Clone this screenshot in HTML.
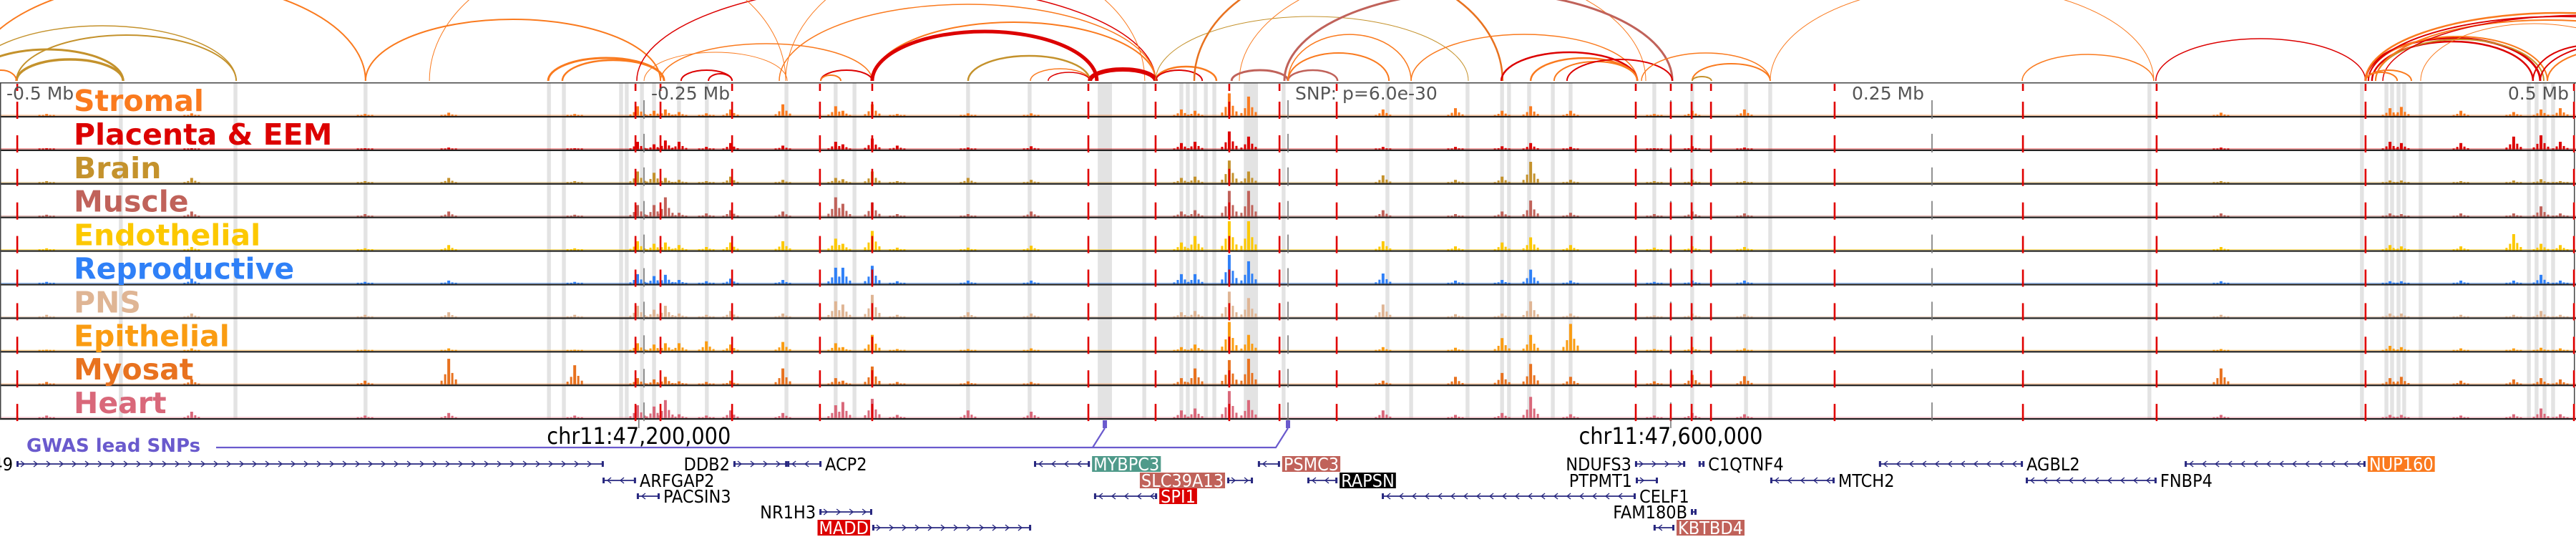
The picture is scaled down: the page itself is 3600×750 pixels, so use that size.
<!DOCTYPE html>
<html><head><meta charset="utf-8"><style>
html,body{margin:0;padding:0;background:#fff;}
svg{display:block;}
text{font-family:"DejaVu Sans","Liberation Sans",sans-serif;}
.cond{font-family:"DejaVu Sans Condensed","DejaVu Sans","Liberation Sans",sans-serif;}
</style></head><body>
<svg id="chart" width="3600" height="750" viewBox="0 0 3600 750" xmlns="http://www.w3.org/2000/svg">
<g id="shades"></g>
<g id="arcs"></g>
<g id="tracks"></g>
<g id="vlines"></g>
<g id="labels"></g>
<g id="axis"></g>
<g id="genes"></g>
</svg>
<script>
// ---- data (genomic offsets in kb relative to lead SNP) ----
const tissues = ["Stromal","Placenta & EEM","Brain","Muscle","Endothelial","Reproductive","PNS","Epithelial","Myosat","Heart"];
const tissueColors = ["#fa7a1e","#dc0000","#c4922c","#c0625a","#fcc800","#2f80f7","#dfb594","#fa9c12","#e8721f","#d9687a"];
const peakPos = [-481.9,-425.6,-358.3,-325.8,-276.9,-252.5,-246.1,-241.7,-236.4,-225.8,-216.4,-196.1,-175.6,-172.8,-161.4,-151.7,-124.2,-99.7,-41.4,-36.1,-22.8,-15.3,36.9,65.0,83.1,94.2,109.7,142.2,156.9,177.2,362.2,427.8,432.2,455.3,475.8,486.4,493.9];
const sigStromal = [3,4,3,5,3,15,8,10,6,4,10,18,15,8,18,3,4,4,10,8,35,30,10,12,8,15,8,3,8,10,5,12,14,8,6,10,12];
const sigPlacenta = [2,2,2,3,2,12,8,14,12,4,10,6,12,8,17,6,3,5,10,12,28,20,4,4,5,10,4,2,5,3,3,12,10,10,20,22,12];
const sigBrain = [3,8,3,8,3,18,16,8,5,3,10,5,8,6,18,3,8,5,8,10,35,18,12,5,10,33,5,3,5,3,3,4,4,3,4,6,3];
const sigMuscle = [3,8,4,8,3,18,18,30,6,5,10,8,30,20,22,4,4,8,8,10,40,40,10,4,8,25,6,4,8,5,5,5,4,5,5,16,5];
const sigEndothelial = [3,5,3,8,3,14,10,12,8,5,12,14,18,10,30,4,4,7,12,22,45,45,14,6,12,20,8,4,6,5,5,8,6,6,25,10,8];
const sigReproductive = [3,8,3,5,3,15,12,14,6,4,8,6,25,25,28,4,5,5,15,15,45,35,16,5,6,22,5,3,5,5,4,4,4,5,5,14,5];
const sigPNS = [4,6,4,8,4,18,12,18,6,4,10,6,25,20,35,4,8,6,8,10,40,30,20,5,6,25,6,3,6,5,4,6,6,4,4,10,4];
const sigEpithelial = [2,4,2,4,2,12,10,12,12,15,10,14,12,6,25,3,3,4,6,10,45,25,6,5,20,25,42,3,6,4,3,8,6,4,4,5,4];
const sigMyosat = [4,8,6,40,30,10,8,12,5,4,6,25,10,6,28,4,5,4,10,25,38,40,6,12,18,32,12,5,15,13,25,10,12,6,8,10,8];
const sigHeart = [4,10,4,8,4,20,18,28,6,4,12,8,20,25,30,5,12,10,12,15,42,28,12,5,8,33,6,4,8,6,5,5,5,4,6,15,6];
const signals = [sigStromal,sigPlacenta,sigBrain,sigMuscle,sigEndothelial,sigReproductive,sigPNS,sigEpithelial,sigMyosat,sigHeart];

const shadePos = [-453.1,-408.6,-358.1,-286.9,-281.1,-258.9,-256.7,-250.8,-246.1,-236.4,-225.6,-194.7,-175.6,-168.3,-124.2,-100.3,-71.1,-55.8,-41.4,-38.9,-36.1,-31.9,-28.6,-14.4,-1.7,38.6,47.8,69.7,83.1,85.8,93.6,102.8,109.7,142.2,156.9,177.8,187.2,334.4,416.9,426.4,428.6,431.1,433.3,439.7,481.7,484.7,487.8,491.1];
const shadeWidthKb = [1.5,1.5,1.5,1.5,1.5,1.5,1.5,1.5,1.5,1.5,1.5,1.5,1.5,1.5,1.5,1.5,5.5,1.5,1.5,1.5,1.5,1.5,1.5,5.5,1.5,1.5,1.5,1.5,1.5,1.5,1.5,1.5,1.5,1.5,1.5,1.5,1.5,1.5,1.5,1.5,1.5,1.5,1.5,1.5,1.5,1.5,1.5,1.5];

const snpLines = [-493.3,-253.3,-243.6,-215.8,-181.7,-161.4,-77.5,-51.4,-22.8,-3.3,18.9,135,148.6,156.7,164.2,212.2,285.3,337.2,418.3,499.2];
const tickKb = [-250,0,250,148.6];

const arcStart = [-511.1,-512.2,-493.6,-511.1,-493.6,-505.6,-358.1,-287.2,-281.7,-252.8,-333.3,-195,-243.6,-250,-197.5,-161.4,-161.4,-124.2,-76.9,-235.6,-225,-181.4,-181.4,-100,-93.1,-51.4,-51.4,-36.4,-51.4,-18.9,-1.4,-21.9,0,0,0,47.8,82.8,94.2,103.3,108.3,137.2,156.9,156.9,285,187.2,336.9,418.3,419.4,420.8,422.2,418.3,419.4,422.2,425,439.7,418.3,418.3,483.3,488.9,486.1];
const arcEnd = [-358.1,-408.3,-408.3,-452.2,-452.2,-493.6,-243.6,-242.2,-242.2,-51.4,-195,-55.6,-161.4,-194.4,-51.4,-51.4,-74.2,-76.9,-51.4,-215.8,-215.8,-161.4,-173.6,-76.9,-76.9,-27.8,-33.3,83.3,70,138.9,149.2,0,19.2,39.2,47.8,135.6,135.6,135.6,135.6,149.2,187.2,187.2,164.4,336.1,336.1,418.3,486.1,488.9,483.3,487.5,569.4,569.4,555.6,583.3,527.8,430.6,436.1,527.8,541.7,555.6];
const arcScore = [140,77,64,44,30,15,86,32,29,135,180,180,52,40,107,82,69,35,16,15,10,15,8,17,12,20,15,160,90,160,125,15,15,39,65,65,40,32,27,30,39,24,6,37,134,59,60,62,55,58,95,90,85,92,80,12,15,50,45,55];
const arcTissue = [0,2,2,2,2,0,0,0,0,1,0,0,0,0,0,0,1,2,1,1,1,1,0,0,1,0,1,8,2,0,3,3,3,0,0,0,1,0,0,1,0,0,2,0,0,1,1,0,1,2,0,1,0,1,0,0,0,1,0,1];
const arcWeight = [2,1.5,2,3,3.5,2,2,3,2.5,1.5,1,1,1.5,1,1.5,2,5,2.5,6,2,2,2,2,1.5,1.5,2.5,2,2.5,1,1,3,3,2.5,2,1.5,1.5,2.5,2.5,2,2,1.5,2,2,1.5,1,1.5,3,2,2.5,2,2.5,2,2,1.5,1,2,2,2,2,2];

const geneNames = ["49","DDB2","ACP2","ARFGAP2","PACSIN3","NR1H3","MADD","MYBPC3","SLC39A13","SPI1","PSMC3","RAPSN","NDUFS3","C1QTNF4","PTPMT1","CELF1","FAM180B","KBTBD4","MTCH2","AGBL2","FNBP4","NUP160"];
const geneStart = [-493.6,-215.3,-194.4,-266.1,-252.8,-181.9,-161.4,-98.6,-23.6,-75.3,-11.7,7.5,134.7,159.4,135,36.4,156.4,141.9,187.2,229.4,286.4,348.1];
const geneEnd = [-265.6,-194.4,-181.1,-253.1,-243.9,-161.4,-99.7,-76.9,-13.6,-50.8,-3.1,19.2,154.2,161.7,143.6,135,158.6,150,212.2,285.3,337.2,418.3];
const geneRow = [0,0,0,1,2,3,4,0,1,2,0,1,0,0,1,2,3,4,1,0,1,0];
const geneStrand = [1,1,-1,-1,-1,1,1,-1,1,-1,-1,-1,1,-1,1,-1,1,-1,-1,-1,-1,-1];
const geneHighlight = ["","","","","","","#dc0000","#4f9a8a","#c0625a","#dc0000","#c0625a","#000000","","","","","","#c0625a","","","","#fa7a1e"];

// ---- scales ----
const NS="http://www.w3.org/2000/svg";
function X(kb){return 1800+kb*3.6;}
const TOP=116, ROWH=46.9, NROW=10;
function rowTop(i){return TOP+i*ROWH;}
function Y(v){return v*0.9;}
function mk(tag,attrs,parent){const e=document.createElementNS(NS,tag);for(const k in attrs)e.setAttribute(k,attrs[k]);parent.appendChild(e);return e;}
const gShade=document.getElementById('shades'),gArc=document.getElementById('arcs'),gTr=document.getElementById('tracks'),gV=document.getElementById('vlines'),gL=document.getElementById('labels');

// shades
shadePos.forEach((p,i)=>{
  const w=shadeWidthKb[i]*3.6;
  const r=mk('rect',{x:X(p)-w/2,y:TOP,width:w,height:NROW*ROWH,fill:'#e3e3e3'},gShade);
  
  
});

// arcs
const BASE=113;
arcStart.forEach((s,i)=>{
  const x1=X(s),x2=X(arcEnd[i]);const rx=(x2-x1)/2;const h=arcScore[i];
  const p=mk('path',{d:`M${x1},${BASE} A${rx},${h} 0 0 1 ${x2},${BASE}`,fill:'none',stroke:tissueColors[arcTissue[i]],'stroke-width':arcWeight[i]},gArc);
  
  
});

// tracks
signals.forEach((sig,t)=>{
  const g=mk('g',{},gTr);
  
  
  const base=rowTop(t)+ROWH-1;const c=tissueColors[t];
  const bl=mk('rect',{x:0,y:base-1.5,width:3600,height:1.2,fill:c,opacity:0.55},g);
  
  
  sig.forEach((v,i)=>{
    const x=X(peakPos[i]);const h=Y(v);
    const parts=[[0,4,1],[-5,3,0.4],[5,3,0.45],[-10,3,0.15],[10,3,0.2]];
    parts.forEach(pt=>{
      const hh=Math.max(1.5,h*pt[2]);
      const b=mk('rect',{x:x+pt[0]-pt[1]/2,y:base-hh,width:pt[1],height:hh,fill:c},g);
      
      
    });
  });
  const ln=mk('rect',{x:0,y:rowTop(t)+ROWH-1,width:3600,height:2.2,fill:'#222'},g);
  
  
});
mk('rect',{x:0,y:TOP-1,width:3600,height:1.5,fill:'#444'},gTr);
mk('rect',{x:0,y:TOP,width:1.5,height:NROW*ROWH,fill:'#444'},gTr);
mk('rect',{x:3597,y:TOP,width:1.5,height:NROW*ROWH,fill:'#444'},gTr);

// gray tick lines & red snp lines
tickKb.forEach(k=>{
  for(let r=0;r<NROW;r++){
    const l=mk('rect',{x:X(k)-0.8,y:rowTop(r)+24,width:1.6,height:26,fill:'#777'},gV);
    
    
  }
});
snpLines.forEach(k=>{
  for(let r=0;r<NROW;r++){
    const l=mk('rect',{x:X(k)-1.3,y:rowTop(r)+26,width:2.6,height:24,fill:'#e00000'},gV);
    
    
  }
  const t=mk('rect',{x:X(k)-1.3,y:TOP+1,width:2.6,height:10,fill:'#e00000'},gV);
  
  
});

// track labels
tissues.forEach((n,t)=>{
  const tx=mk('text',{x:103,y:rowTop(t)+39,'font-size':41,'font-weight':'bold',fill:tissueColors[t]},gL);
  tx.textContent=n;
  
  
});
</script>
<script>
(function(){
const NS="http://www.w3.org/2000/svg";const gAx=document.getElementById('axis');const gG=document.getElementById('genes');
function X(kb){return 1800+kb*3.6;}
function mk(tag,attrs,parent){const e=document.createElementNS(NS,tag);for(const k in attrs)e.setAttribute(k,attrs[k]);parent.appendChild(e);return e;}
const axisLabels=[["-0.5 Mb",-500,"start",9],["-0.25 Mb",-250,"start",10],["SNP: p=6.0e-30",0,"start",10],["0.25 Mb",250,"end",-11],["0.5 Mb",500,"end",-10]];
axisLabels.forEach(a=>{
  const t=mk('text',{x:X(a[1])+a[3],y:139,'font-size':25,fill:'#555','text-anchor':a[2]},gAx);
  t.textContent=a[0];
  
  
});
[["chr11:47,200,000",-252],["chr11:47,600,000",148.6]].forEach(c=>{
  mk('rect',{x:X(c[1])-0.7,y:585,width:1.4,height:13,fill:'#666'},gAx);
  const t=mk('text',{x:X(c[1]),y:620,'font-size':32,fill:'#000','text-anchor':'middle',class:'cond'},gAx);
  t.textContent=c[0];
  
  
});
const gw=mk('text',{x:37,y:631,'font-size':26,'font-weight':'bold',fill:'#6a5acd'},gAx);
gw.textContent="GWAS lead SNPs";


const gp=mk('path',{d:`M302,625 L1527,625 L1544,598 M1527,625 L1783,625 L1800,598`,fill:'none',stroke:'#6a5acd','stroke-width':2.2},gAx);


[-71.1,0].forEach(k=>{
  const m=mk('rect',{x:X(k)-3,y:587,width:6,height:11,fill:'#6a5acd'},gAx);
  
  
});
const rowY=[648,671,693,715,737];
geneNames.forEach((n,i)=>{
  const g=mk('g',{},gG);
  
  
  const x1=X(geneStart[i]),x2=X(geneEnd[i]),y=rowY[geneRow[i]],s=geneStrand[i];
  mk('line',{x1:x1,y1:y,x2:x2,y2:y,stroke:'#27277f','stroke-width':1.8},g);
  mk('rect',{x:x1,y:y-4,width:3,height:8,fill:'#27277f'},g);
  mk('rect',{x:x2-3,y:y-4,width:3,height:8,fill:'#27277f'},g);
  for(let x=x1+9;x<x2-6;x+=18){
    mk('path',{d:s>0?`M${x-3},${y-4} L${x+2},${y} L${x-3},${y+4}`:`M${x+3},${y-4} L${x-2},${y} L${x+3},${y+4}`,fill:'none',stroke:'#27277f','stroke-width':1.4},g);
  }
  const right = s<0 || n==="C1QTNF4";
  const lx = right? x2+3 : x1-3;
  const anchor = right? 'start':'end';
  const hl=geneHighlight[i];
  const t=mk('text',{x:right?lx+2:lx-2,y:y+9,'font-size':25,fill:hl?'#fff':'#000','text-anchor':anchor,class:'cond'},g);
  t.textContent=n;
  
  
  if(hl){
    const bb=t.getBBox();
    const r=document.createElementNS(NS,'rect');
    r.setAttribute('x',bb.x-2);r.setAttribute('y',y-11);r.setAttribute('width',bb.width+4);r.setAttribute('height',22);r.setAttribute('fill',hl);
    
    
    g.insertBefore(r,t);
  }
});
})();
</script>
</body></html>
